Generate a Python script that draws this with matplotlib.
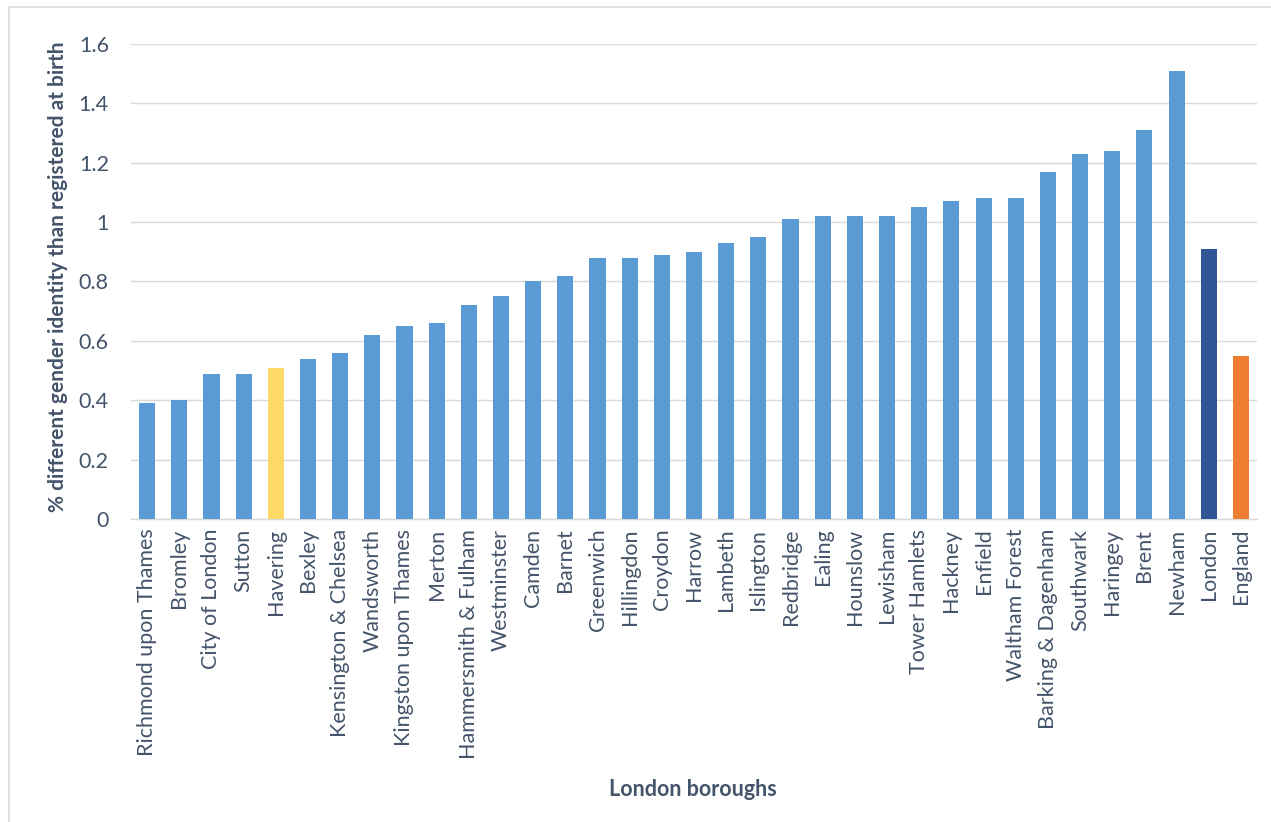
import matplotlib.pyplot as plt
from matplotlib.patches import Rectangle

# Data: % with gender identity different from sex registered at birth
boroughs = ["Richmond upon Thames", "Bromley", "City of London", "Sutton", "Havering",
            "Bexley", "Kensington & Chelsea", "Wandsworth", "Kingston upon Thames", "Merton",
            "Hammersmith & Fulham", "Westminster", "Camden", "Barnet", "Greenwich",
            "Hillingdon", "Croydon", "Harrow", "Lambeth", "Islington",
            "Redbridge", "Ealing", "Hounslow", "Lewisham", "Tower Hamlets",
            "Hackney", "Enfield", "Waltham Forest", "Barking & Dagenham", "Southwark",
            "Haringey", "Brent", "Newham", "London", "England"]
values = [0.39, 0.40, 0.49, 0.49, 0.51,
          0.54, 0.56, 0.62, 0.65, 0.66,
          0.72, 0.75, 0.80, 0.82, 0.88,
          0.88, 0.89, 0.90, 0.93, 0.95,
          1.01, 1.02, 1.02, 1.02, 1.05,
          1.07, 1.08, 1.08, 1.17, 1.23,
          1.24, 1.31, 1.51, 0.91, 0.55]
y_ticks = [0, 0.2, 0.4, 0.6, 0.8, 1, 1.2, 1.4, 1.6]
y_tick_labels = ["0", "0.2", "0.4", "0.6", "0.8", "1", "1.2", "1.4", "1.6"]

colors = []
for name in boroughs:
    if name == "Havering":
        colors.append("#FFD966")
    elif name == "London":
        colors.append("#2F5597")
    elif name == "England":
        colors.append("#ED7D31")
    else:
        colors.append("#5B9BD5")

plt.rcParams['font.family'] = ['Lato', 'DejaVu Sans']
text_col = "#44546A"

fig = plt.figure(figsize=(12.71, 8.22), dpi=100)
ax = fig.add_axes([0.1031, 0.3686, 0.8859, 0.5779])

x = range(len(boroughs))
ax.bar(x, values, width=0.5, color=colors, zorder=3)

ax.set_xlim(-0.5, len(boroughs) - 0.5)
ax.set_ylim(0, 1.6)
ax.set_yticks(y_ticks)
ax.set_yticklabels(y_tick_labels)
ax.set_xticks(list(x))
ax.set_xticklabels(boroughs, rotation=90)
ax.tick_params(axis='both', length=0, labelsize=15.5, colors=text_col)
ax.tick_params(axis='y', pad=16)
ax.tick_params(axis='x', pad=7)

ax.grid(axis='y', color="#D9D9D9", linewidth=1, zorder=0)
for side in ['top', 'right', 'left']:
    ax.spines[side].set_visible(False)
ax.spines['bottom'].set_color("#D9D9D9")
ax.spines['bottom'].set_linewidth(1)

ax.set_ylabel("% different gender identity than registered at birth", fontsize=15,
              fontweight='bold', color=text_col)
ax.yaxis.set_label_coords(-0.056, 0.51)
fig.text(0.545, 0.039, "London boroughs", fontsize=15.5, fontweight='bold',
         color=text_col, ha='center', va='center')

# chart frame
fig.patches.append(Rectangle((9 / 1271, -0.01), 1.02, 1 - 7 / 822 + 0.01,
                             transform=fig.transFigure, fill=False,
                             edgecolor="#D9D9D9", linewidth=1.2))

fig.savefig("out.png", dpi=100)
